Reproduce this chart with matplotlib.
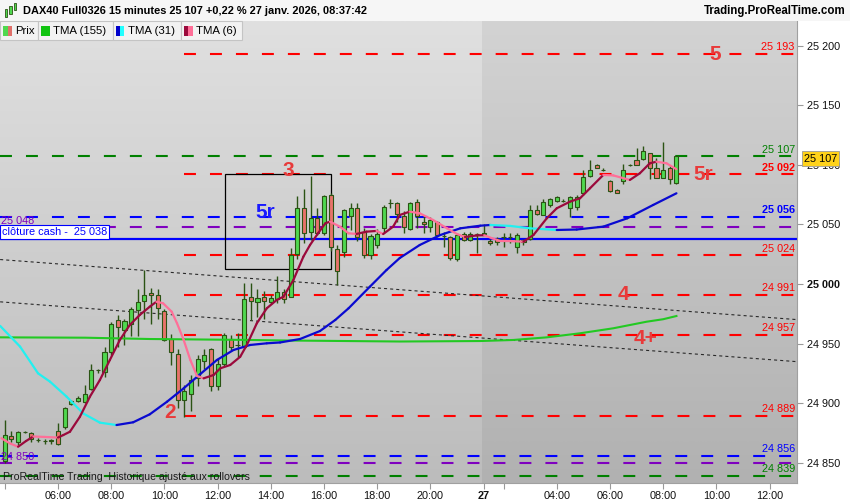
import matplotlib.pyplot as plt
import numpy as np
from matplotlib.collections import LineCollection
from matplotlib.colors import LinearSegmentedColormap
from matplotlib.patches import Rectangle

plt.rcParams['font.family'] = ['Liberation Sans', 'DejaVu Sans']
plt.rcParams['lines.scale_dashes'] = False

# bar index 0 = 26 janv. 04:00 (15 min bars), index 72 = 27 janv. 01:15
opens = [24851, 24872, 24867, 24876, 24875, 24869, 24868, 24868, 24877, 24880,
         24899, 24902, 24901, 24912, 24928, 24926, 24943, 24970, 24961, 24966,
         24978, 24986, 24992, 24991, 24977, 24954, 24941, 24903, 24908, 24921,
         24935, 24945, 24914, 24933, 24954, 24949, 24947, 24989, 24985, 24989,
         24985, 24987, 24993, 24989, 25025, 25064, 25044, 25055, 25043, 25075,
         25029, 25027, 25057, 25064, 25044, 25024, 25033, 25047, 25068, 25068,
         25057, 25046, 25069, 25052, 25048, 25052, 25040, 25039, 25021, 25042,
         25037, 25042, 25043, 25036, 25038, 25039, 25039, 25031, 25037, 25038,
         25062, 25058, 25066, 25070, 25070, 25064, 25065, 25076, 25091, 25100,
         25096, 25086, 25079, 25086, 25100, 25104, 25105, 25110, 25097, 25089,
         25097, 25085]
highs = [24886, 24877, 24877, 24877, 24876, 24871, 24870, 24870, 24883, 24897,
         24903, 24906, 24915, 24933, 24929, 24947, 24968, 24974, 24971, 24981,
         24996, 25012, 24997, 24996, 24979, 24958, 24945, 24915, 24924, 24940,
         24945, 24946, 24938, 24959, 24957, 24959, 25001, 25001, 24996, 24994,
         24991, 25007, 24996, 25030, 25074, 25080, 25091, 25064, 25075, 25076,
         25033, 25063, 25068, 25068, 25047, 25042, 25046, 25066, 25071, 25069,
         25061, 25069, 25071, 25058, 25056, 25053, 25044, 25040, 25043, 25044,
         25044, 25043, 25050, 25038, 25039, 25043, 25043, 25043, 25038, 25066,
         25066, 25071, 25072, 25074, 25071, 25074, 25075, 25096, 25104, 25101,
         25097, 25087, 25080, 25101, 25101, 25114, 25116, 25110, 25106, 25119,
         25099, 25107]
lows = [24850, 24867, 24865, 24875, 24867, 24867, 24866, 24866, 24865, 24878,
        24898, 24901, 24900, 24911, 24925, 24922, 24940, 24947, 24949, 24956,
        24956, 24971, 24966, 24971, 24952, 24932, 24896, 24888, 24893, 24914,
        24929, 24910, 24911, 24931, 24944, 24939, 24946, 24970, 24972, 24971,
        24983, 24984, 24984, 24989, 25021, 25034, 25037, 25041, 25041, 25028,
        24999, 25023, 25045, 25036, 25022, 25021, 25030, 25043, 25064, 25052,
        25043, 25045, 25047, 25043, 25044, 25039, 25031, 25020, 25019, 25036,
        25036, 25026, 25041, 25033, 25033, 25031, 25034, 25026, 25033, 25037,
        25058, 25058, 25065, 25069, 25069, 25056, 25062, 25075, 25090, 25097,
        25095, 25077, 25076, 25084, 25099, 25100, 25104, 25088, 25089, 25089,
        25084, 25084]
closes = [24873, 24870, 24876, 24876, 24870, 24869, 24868, 24869, 24866, 24896,
          24902, 24904, 24908, 24928, 24928, 24943, 24966, 24964, 24969, 24979,
          24985, 24991, 24991, 24980, 24953, 24943, 24903, 24910, 24919, 24937,
          24940, 24914, 24933, 24957, 24947, 24949, 24987, 24986, 24988, 24986,
          24988, 24993, 24987, 25024, 25064, 25043, 25055, 25043, 25074, 25031,
          25011, 25062, 25064, 25039, 25024, 25040, 25042, 25065, 25068, 25059,
          25048, 25068, 25057, 25050, 25054, 25041, 25040, 25022, 25041, 25037,
          25042, 25042, 25042, 25034, 25035, 25039, 25039, 25041, 25035, 25062,
          25059, 25069, 25071, 25073, 25070, 25073, 25073, 25090, 25096, 25097,
          25096, 25078, 25076, 25096, 25100, 25100, 25112, 25097, 25089, 25096,
          25088, 25107]

# moving averages (bar index, price)
tma155_x = [-0.7, 12.1, 21.8, 36.9, 41.4, 59.4, 71.5, 76.5, 81.5, 86.5, 91.5, 96.5, 99.0, 101.0]
tma155_y = [24955.2, 24954.9, 24953.8, 24953.0, 24952.6, 24951.7, 24952.1, 24953.0,
            24955.2, 24958.6, 24962.8, 24968.3, 24970.4, 24973.1]

tma31_x = [-0.7, 2.3, 5.0, 6.8, 9.3, 11.8, 14.3, 16.8, 19.3, 21.8, 24.4, 26.9, 29.4,
           31.9, 34.4, 36.9, 39.4, 41.4, 44.4, 47.4, 49.7, 51.7, 54.9, 57.4, 59.4,
           62.4, 65.5, 68.5, 71.5, 73.0, 76.0, 79.0, 83.0, 86.0, 90.0, 93.6, 97.5, 101.0]
tma31_y = [24964.8, 24947.4, 24925.0, 24918.0, 24905.4, 24891.3, 24883.6, 24881.6,
           24883.9, 24890.6, 24901.2, 24912.4, 24924.4, 24936.2, 24944.6, 24948.8,
           24950.2, 24950.9, 24953.8, 24960.5, 24969.8, 24979.6, 24997.7, 25011.7,
           25021.8, 25032.7, 25041.1, 25046.7, 25048.9, 25049.5, 25048.7, 25046.7,
           25045.3, 25045.7, 25048.1, 25055.1, 25066.3, 25076.1]

tma6_x = [-0.5, 0.8, 2.0, 3.2, 4.3, 6.0, 8.0, 8.8, 9.8, 11.3, 12.8, 14.3, 15.8, 17.3,
          18.8, 20.3, 21.8, 22.8, 23.8, 25.1, 25.9, 26.9, 27.9, 28.9, 29.9, 31.4,
          32.4, 33.9, 35.4, 36.4, 37.9, 39.4, 40.9, 41.9, 43.4, 44.9, 45.9, 47.1,
          48.2, 48.9, 50.4, 51.7, 52.9, 54.4, 55.9, 56.9, 58.4, 59.4, 60.9, 62.4,
          64.4, 66.5, 68.0, 69.2, 70.9, 72.1, 73.3, 74.5, 76.0, 78.0, 79.5, 81.5,
          83.0, 85.0, 86.5, 88.0, 90.0, 91.5, 94.0, 95.5, 97.0, 98.0, 99.5, 101.0]
tma6_y = [24870.5, 24866.1, 24863.4, 24868.2, 24872.0, 24871.6, 24871.1, 24873.2,
          24876.0, 24888.6, 24905.4, 24919.4, 24936.2, 24953.0, 24965.6, 24974.0,
          24980.9, 24985.1, 24983.8, 24976.7, 24967.0, 24953.0, 24936.2, 24922.8,
          24920.8, 24923.6, 24929.2, 24932.0, 24938.9, 24948.8, 24967.0, 24979.6,
          24986.6, 24989.3, 25003.3, 25022.9, 25032.7, 25042.5, 25050.9, 25052.3,
          25048.1, 25042.5, 25042.0, 25043.9, 25044.5, 25041.9, 25048.1, 25057.9,
          25060.7, 25059.3, 25053.7, 25046.7, 25041.9, 25039.4, 25040.7, 25040.9,
          25038.3, 25036.1, 25036.0, 25035.5, 25041.1, 25055.1, 25063.5, 25069.1,
          25071.9, 25080.3, 25091.5, 25091.1, 25087.3, 25092.9, 25101.3, 25102.6,
          25101.3, 25096.3]

# horizontal levels
level_prices = [25193, 25107, 25092, 25056, 25048, 25024, 24991, 24957, 24889, 24856, 24850, 24839]
level_colors = ['#ff0000', '#008000', '#ff0000', '#0000ff', '#7f00bf', '#ff0000',
                '#ff0000', '#ff0000', '#ff0000', '#0000ff', '#7f00bf', '#008000']
level_starts = [27, -0.7, 27, -0.7, -0.7, 27, 27, 27, 27, -0.7, -0.7, -0.7]
level_texts = ['25 193', '25 107', '25 092', '25 056', '25 048', '25 024',
               '24 991', '24 957', '24 889', '24 856', '24 850', '24 839']
level_text_side = ['r', 'r', 'r', 'r', 'l', 'r', 'r', 'r', 'r', 'r', 'l', 'r']
level_text_bold = [False, False, True, True, False, False, False, False, False, False, False, False]
cash_close = 25038

# dotted trend lines (bar index, price)
trend_x = [-0.7, 119.1]
trend1_y = [25020.5, 24970.1]
trend2_y = [24985.0, 24934.8]

# wave labels
wave_texts = ['5', '3', '5r', '2', '4', '4+', '5r']
wave_x = [106.8, 42.7, 105.0, 24.8, 93.0, 96.3, 39.1]
wave_y = [25193.0, 25095.6, 25091.5, 24891.7, 24990.8, 24954.6, 25059.6]
wave_colors = ['#e83a3a'] * 6 + ['#1a1aff']

# box around the 3 / 5r zone
box_x = [33.1, 49.05]
box_y = [25012.6, 25092.3]

tick_pos = [0, 8, 16, 24, 32, 40, 48, 56, 64, 72, 75, 83, 91, 99, 107, 115]
tick_labels = ['', '06:00', '08:00', '10:00', '12:00', '14:00', '16:00', '18:00',
               '20:00', '27', '', '04:00', '06:00', '08:00', '10:00', '12:00']
price_ticks = [24850, 24900, 24950, 25000, 25050, 25100, 25150, 25200]

day_split = 71.7
xmin, xmax = -0.72, 119.13
ymin, ymax = 24832.95, 25220.7

W, H = 850, 500
fig = plt.figure(figsize=(8.5, 5), dpi=100)
fig.patch.set_facecolor('white')
ax = fig.add_axes([0, 17 / H, 797 / W, (483 - 21) / H])


def px(x):
    return x / W


def py(y):
    return 1 - y / H


# background gradients for both sessions
grad = np.linspace(0, 1, 256).reshape(-1, 1)
cm26 = LinearSegmentedColormap.from_list('d26', ['#bcbcbc', '#e0e0e0'])
cm27 = LinearSegmentedColormap.from_list('d27', ['#b1b1b1', '#d3d3d3'])
ax.imshow(grad, extent=[xmin, day_split, ymin, ymax], cmap=cm26, aspect='auto',
          origin='lower', zorder=0)
ax.imshow(grad, extent=[day_split, xmax, ymin, ymax], cmap=cm27, aspect='auto',
          origin='lower', zorder=0)

# levels
for p, c, s, t, side, b in zip(level_prices, level_colors, level_starts, level_texts,
                               level_text_side, level_text_bold):
    ax.plot([s, xmax], [p, p], color=c, lw=1.5, dashes=(8.6, 10.1), zorder=2)
    if side == 'r':
        ax.text(118.8, p + 1.5, t, color=c, fontsize=7.8, ha='right', va='bottom',
                fontweight='bold' if b else 'normal', zorder=7)
    else:
        ax.text(-0.6, p + 0.3, t, color=c, fontsize=7.8, ha='left', va='bottom', zorder=7)

ax.plot([xmin, xmax], [cash_close, cash_close], color='#0000ff', lw=1.6, zorder=2)
ax.text(-0.45, cash_close + 1.2, 'clôture cash -  25 038', color='#0000ff', fontsize=7.8,
        ha='left', va='bottom', zorder=8,
        bbox=dict(boxstyle='square,pad=0.18', facecolor='white', edgecolor='#0000ff', lw=0.8))

for ty in (trend1_y, trend2_y):
    ax.plot(trend_x, ty, color='#2a2a2a', lw=0.8, dashes=(2.2, 2.2), zorder=2)

ax.add_patch(Rectangle((box_x[0], box_y[0]), box_x[1] - box_x[0], box_y[1] - box_y[0],
                       fill=False, edgecolor='black', lw=0.9, zorder=3))

# candles
idx = np.arange(len(opens))
o = np.array(opens)
c = np.array(closes)
up = c >= o
fills = np.where(up, '#4fd84f', '#e8736b')
ax.vlines(idx, lows, highs, color='#2b5314', lw=1.0, zorder=4)
ax.bar(idx, np.abs(c - o), bottom=np.minimum(o, c), width=0.62, color=fills,
       edgecolor='#2b5314', linewidth=0.8, zorder=4)


def slope_line(xs, ys, col_up, col_down, lw):
    pts = np.column_stack([xs, ys])
    segs = np.stack([pts[:-1], pts[1:]], axis=1)
    cols = [col_up if b[1] >= a[1] else col_down for a, b in zip(pts[:-1], pts[1:])]
    ax.add_collection(LineCollection(segs, colors=cols, linewidths=lw, zorder=5,
                                     capstyle='round', joinstyle='round'))


ax.plot(tma155_x, tma155_y, color='#22c922', lw=1.5, zorder=5)
slope_line(tma31_x, tma31_y, '#0a0ad0', '#22f0f0', 1.6)
slope_line(tma6_x, tma6_y, '#9b0a3c', '#ff6f98', 1.6)

for t, x, y, col in zip(wave_texts, wave_x, wave_y, wave_colors):
    ax.text(x, y, t, color=col, fontsize=15, fontweight='bold', ha='center',
            va='center', zorder=8)

ax.set_xlim(xmin, xmax)
ax.set_ylim(ymin, ymax)

ax.set_xticks(tick_pos)
ax.set_xticklabels(tick_labels)
for lab in ax.get_xticklabels():
    if lab.get_text() == '27':
        lab.set_fontweight('bold')
ax.tick_params(axis='x', direction='out', length=4, color='#999999', labelsize=7.8,
               pad=2, labelcolor='#111111')

ax.yaxis.tick_right()
ax.set_yticks(price_ticks)
ax.set_yticklabels([f'{v:,}'.replace(',', ' ') for v in price_ticks])
for lab in ax.get_yticklabels():
    if lab.get_text() == '25 000':
        lab.set_fontweight('bold')
ax.tick_params(axis='y', direction='out', length=4, color='#999999', labelsize=7.8,
               pad=3, labelcolor='#111111')

for side in ('top', 'left'):
    ax.spines[side].set_visible(False)
for side in ('right', 'bottom'):
    ax.spines[side].set_color('#a0a0a0')
    ax.spines[side].set_linewidth(0.8)

# last price tag
fig.text(px(804), py(158.5), '25 107', fontsize=7.8, ha='left', va='center', zorder=10,
         bbox=dict(boxstyle='square,pad=0.2', facecolor='#ffd21a', edgecolor='#9a9a9a', lw=0.6))

# header
fig.patches.append(Rectangle((0, py(21)), 1, 21 / H, transform=fig.transFigure,
                             facecolor='#f6f6f6', edgecolor='none', zorder=0))
for bx, by0, by1 in [(6, 9, 17), (10.5, 6, 14), (15, 3, 10)]:
    fig.patches.append(Rectangle((px(bx - 1.3), py(by1)), 2.6 / W, (by1 - by0) / H,
                                 transform=fig.transFigure, facecolor='#4fd84f',
                                 edgecolor='#2b5314', lw=0.6))
fig.text(px(23), py(11), 'DAX40 Full0326 15 minutes 25 107 +0,22 % 27 janv. 2026, 08:37:42',
         fontsize=7.9, fontweight='bold', ha='left', va='center')
fig.text(px(846), py(11), 'Trading.ProRealTime.com', fontsize=8.3, fontweight='bold',
         ha='right', va='center')

# legend row
legend_names = ['Prix', 'TMA (155)', 'TMA (31)', 'TMA (6)']
legend_edges = [0, 37.5, 112.5, 180.5, 241.5]
legend_swatches = [('#4fd84f', '#e0706a'), ('#11c411', '#11c411'),
                   ('#0000cc', '#22ffff'), ('#9b0a3c', '#ff6f98')]
for name, x0, x1, (c1, c2) in zip(legend_names, legend_edges[:-1], legend_edges[1:],
                                  legend_swatches):
    fig.patches.append(Rectangle((px(x0), py(40)), (x1 - x0) / W, 19 / H,
                                 transform=fig.transFigure, facecolor='#f2f2f2',
                                 edgecolor='#c4c4c4', lw=0.8, zorder=5))
    fig.patches.append(Rectangle((px(x0 + 3), py(36)), 4.5 / W, 10 / H,
                                 transform=fig.transFigure, facecolor=c1,
                                 edgecolor='none', zorder=6))
    fig.patches.append(Rectangle((px(x0 + 7.5), py(36)), 4.5 / W, 10 / H,
                                 transform=fig.transFigure, facecolor=c2,
                                 edgecolor='none', zorder=6))
    fig.text(px(x0 + 15.5), py(30.5), name, fontsize=8.2, ha='left', va='center', zorder=7)

fig.text(px(3), py(476.5), 'ProRealTime Trading  Historique ajusté aux rollovers',
         fontsize=7.6, color='#1a1a1a', ha='left', va='center')

fig.savefig('out.png', dpi=100)
